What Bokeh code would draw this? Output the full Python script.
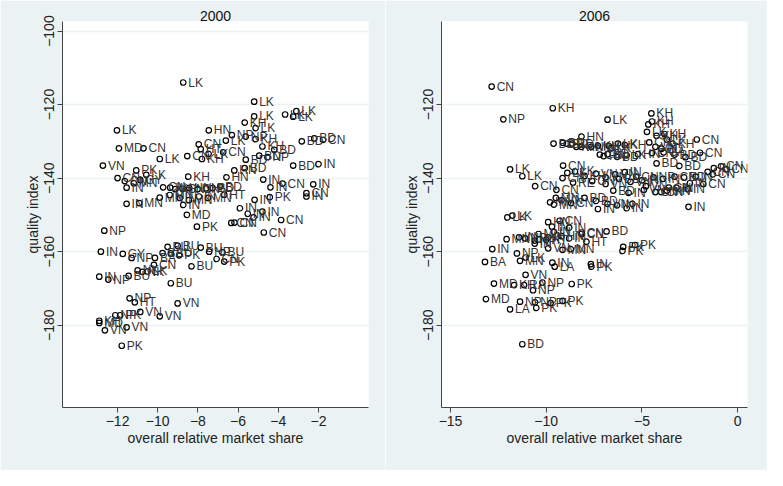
from bokeh.plotting import figure
from bokeh.layouts import row
from bokeh.models import FixedTicker, Range1d, ColumnDataSource
from bokeh.core.properties import value
from bokeh.embed import file_html
from bokeh.resources import INLINE

# ---- 2000 panel data ----
x2000 = [-8.73,-5.2,-5.2,-5.67,-5.13,-3.66,-3.1,-3.26,-12.03,-7.46,-6.31,-5.62,-5.13,-7.96,-6.61,
         -11.93,-10.71,-2.83,-2.21,-1.77,-7.86,-7.47,-6.74,-7.8,-8.53,-9.9,-4.79,-4.2,-5.62,-4.54,-4.95,
         -6.19,-5.67,-3.26,-2.0,-12.73,-11.07,-10.57,-12.0,-11.64,-11.55,-10.87,-11.19,-8.48,-6.58,-4.75,
         -4.39,-3.79,-2.26,-2.6,-2.6,-9.73,-9.38,-9.13,-8.77,-8.43,-8.02,-7.6,-7.27,-6.89,
         -9.9,-9.4,-8.9,-8.45,-7.95,-7.5,-6.69,-5.18,-4.42,-11.55,-10.92,-8.73,-8.55,-5.91,-5.52,-4.79,
         -5.23,-3.86,-6.34,-6.18,-8.05,-4.72,-12.66,
         -12.83,-11.74,-11.3,-10.14,-10.19,-9.76,-9.51,-9.01,-8.93,-9.35,-7.86,-7.44,-6.78,-7.07,-6.69,
         -8.32,-12.91,-12.46,-11.45,-11.0,-10.76,-10.51,-9.35,-11.4,-11.14,-9.01,-10.87,-12.11,-11.87,
         -9.9,-12.91,-12.91,-12.63,-11.55,-11.79]
y2000 = [-114.0,-119.2,-123.2,-124.9,-126.4,-122.7,-121.8,-123.3,-127.0,-127.0,-128.3,-128.7,-129.4,-130.8,-129.8,
         -131.9,-131.9,-130.0,-129.2,-129.6,-132.1,-133.4,-133.0,-134.8,-134.0,-134.8,-131.4,-132.3,-135.0,-134.3,-133.9,
         -137.9,-137.3,-136.6,-136.2,-136.6,-137.9,-139.1,-140.0,-140.8,-142.6,-140.5,-141.4,-139.6,-139.8,-140.4,
         -142.5,-141.5,-141.7,-144.1,-145.0,-142.5,-142.6,-143.0,-142.9,-142.7,-143.0,-142.8,-142.7,-142.3,
         -145.3,-144.6,-145.4,-146.0,-145.0,-145.4,-144.5,-145.9,-145.2,-147.0,-146.8,-147.3,-150.0,-148.2,-149.7,-149.1,
         -150.7,-151.4,-152.2,-152.1,-153.2,-154.8,-154.3,
         -160.0,-160.6,-161.7,-161.7,-163.6,-160.4,-158.7,-158.4,-161.0,-160.5,-158.9,-160.0,-160.2,-162.0,-162.7,
         -164.0,-166.8,-167.6,-166.6,-165.1,-165.5,-165.4,-168.6,-172.7,-173.8,-174.1,-176.4,-177.3,-177.3,
         -177.6,-178.8,-179.4,-181.4,-180.6,-185.6]
lab2000 = ["LK","LK","LK","KH","LK","LK","LK","LK","LK","HN","NP","NP","KH","CN","LK",
           "MD","CN","BD","BD","CN","HT","LK","CN","KH","CN","LK","KH","BD","BD","NP","BD",
           "HN","BD","BD","IN","VN","PK","LK","CN","CN","IN","GY","MN","KH","HN","IN",
           "IN","CN","IN","CN","IN","CN","KH","KH","CN","HN","CN","HN","BD","BD",
           "MN","MN","IN","MN","IN","MN","HT","IN","PK","IN","MN","IN","MD","IN","IN","IN",
           "IN","CN","CN","CN","PK","CN","NP",
           "IN","GY","NP","BA","CN","BA","BU","BU","PK","BU","BU","NP","BU","CN","PK",
           "BU","IN","NP","BU","NK","NK","LK","BU","NP","HT","VN","VN","NP","PK",
           "VN","KH","MD","VN","VN","PK"]

# ---- 2006 panel data ----
x2006 = [-12.85,-12.24,-9.66,-6.8,-4.51,-4.48,-4.67,-4.74,-4.24,-3.83,-3.7,-3.4,-4.62,-4.3,-3.98,
         -2.14,-1.97,-2.73,-3.3,-3.87,-4.48,-5.21,-4.24,-3.05,-1.57,-1.25,-0.87,-0.6,
         -8.16,-9.62,-9.13,-8.93,-8.64,-8.43,-8.17,-7.65,-7.3,-6.74,-6.25,-6.6,-5.9,
         -9.12,-11.89,-11.25,-10.58,-9.15,-9.47,
         -7.2,-7.0,-6.8,-6.3,-5.8,
         -8.9,-8.5,-8.0,-7.4,-6.9,-6.4,-5.9,-5.3,
         -8.6,-7.6,-6.9,-6.2,-5.6,-5.0,-4.4,-3.9,-3.3,-2.8,-2.2,-1.8,-1.3,-2.5,-3.6,-4.8,
         -6.5,-5.7,-4.9,-4.3,-3.7,-3.2,-2.6,-4.0,
         -9.5,-9.8,-9.6,-9.2,-8.7,-8.0,-7.4,-6.8,-7.3,-6.3,-5.8,-5.5,-2.57,
         -12.03,-11.77,-9.9,-9.7,-9.3,-8.15,-6.85,-9.2,-8.8,-9.6,-10.4,-11.1,-10.6,-10.0,
         -12.07,-11.42,-10.6,-10.37,-9.9,-8.8,-8.15,-7.9,
         -12.82,-11.53,-9.9,-9.15,-8.72,-5.98,-5.37,-6.02,
         -13.2,-11.37,-11.08,-9.68,-9.56,-7.67,-7.64,-11.08,
         -12.73,-11.68,-11.16,-10.2,-10.69,-8.67,-13.15,-11.37,-10.58,-9.77,-9.15,-11.89,-10.52,-11.25]
y2006 = [-115.1,-124.0,-121.0,-124.1,-122.4,-124.6,-125.4,-127.4,-128.5,-128.0,-129.5,-130.6,-130.3,-131.5,-132.0,
         -129.5,-133.1,-134.3,-133.6,-133.0,-133.2,-133.5,-136.0,-136.7,-138.3,-137.3,-136.8,-137.6,
         -128.7,-130.6,-130.4,-130.6,-130.6,-131.5,-131.5,-131.5,-131.2,-131.2,-130.6,-131.8,-131.0,
         -136.6,-137.6,-139.5,-142.2,-140.0,-143.2,
         -133.6,-134.0,-133.5,-134.2,-133.8,
         -138.6,-138.2,-139.4,-138.8,-139.8,-139.0,-138.4,-139.6,
         -141.2,-140.8,-141.6,-140.2,-141.0,-140.6,-139.8,-140.2,-139.6,-139.8,-139.6,-141.6,-139.0,-141.4,-142.6,-142.2,
         -143.4,-144.0,-143.2,-143.8,-143.4,-142.6,-143.0,-143.8,
         -145.4,-146.6,-147.2,-146.0,-146.8,-145.4,-146.2,-147.0,-148.4,-147.4,-148.2,-147.0,-147.8,
         -150.7,-150.2,-152.0,-153.2,-151.6,-154.8,-154.5,-155.8,-153.5,-154.6,-155.2,-156.4,-157.8,-156.8,
         -156.6,-156.1,-157.0,-156.7,-156.1,-156.4,-155.2,-157.3,
         -159.3,-160.5,-159.1,-159.5,-159.3,-158.7,-158.2,-159.8,
         -162.8,-162.5,-161.6,-163.0,-164.1,-163.4,-164.1,-166.3,
         -168.7,-169.1,-169.1,-168.4,-170.5,-168.8,-172.9,-173.6,-173.8,-174.0,-173.4,-175.7,-175.3,-185.2]
lab2006 = ["CN","NP","KH","LK","KH","KH","KH","LK","KH","KH","LK","KH","CN","VN","BD",
           "CN","CN","BD","BD","CA","CN","HN","BD","BD","CN","IN","CN","CN",
           "HN","BD","BD","BD","BD","KH","RN","MN","KH","KH","LK","LK","KH",
           "CN","LK","LK","CN","CN","CN",
           "CN","HN","BD","BD","LK",
           "LK","LK","KH","VN","VN","VN","IN","CN",
           "RE","GN","VN","BD","VN","IN","NP","IN","CN","BD","IN","CN","CN","IN","CN","VN",
           "BD","IN","VN","CN","MN","IN","IN","CN",
           "MN","IN","MN","VN","CN","BD","BD","VN","IN","IN","IN","IN","IN",
           "LK","LK","HN","IN","CN","CN","BD","HN","IN","IN","MN","NP","IN","HT",
           "MN","IN","NP","PK","IN","IN","CN","HT",
           "IN","NP","VN","MN","MN","PK","PK","PK",
           "BA","MN","LK","IN","LA","IN","PK","VN",
           "MD","KH","RA","NP","NP","PK","MD","NP","NP","PK","PK","LA","PK","BD"]

BG = "#eaf2f3"
FONT = "Liberation Sans"

def panel(title, xs, ys, labs, xr, xticks, yticks, w, bl, br):
    p = figure(width=w, height=470, output_backend="svg", toolbar_location=None,
               x_range=Range1d(*xr), y_range=Range1d(-202.4, -97.4),
               min_border_left=bl, min_border_right=br, min_border_top=21, min_border_bottom=63)
    p.background_fill_color = "white"
    p.border_fill_color = BG
    p.outline_line_color = None
    p.title.text = title
    p.title.align = "center"
    p.title.text_font = FONT
    p.title.text_font_size = "14px"
    p.title.text_font_style = "normal"
    p.title.text_color = "#111111"
    p.title.standoff = 2
    src = ColumnDataSource(dict(x=xs, y=ys, t=labs))
    p.scatter("x", "y", source=src, marker="circle", size=5.5, fill_color=None,
              line_color="black", line_width=1.2)
    p.text("x", "y", text="t", source=src, x_offset=5, text_baseline="middle",
           text_font_size="12px", text_color="#333333", text_font=value(FONT))
    p.xaxis.ticker = FixedTicker(ticks=xticks)
    p.yaxis.ticker = FixedTicker(ticks=yticks)
    p.xgrid.grid_line_color = None
    p.ygrid.grid_line_color = BG
    p.ygrid.grid_line_width = 1.5
    p.xaxis.axis_label = "overall relative market share"
    p.yaxis.axis_label = "quality index"
    p.yaxis.major_label_orientation = "vertical"
    for ax in (p.xaxis, p.yaxis):
        ax.axis_label_text_font = FONT
        ax.axis_label_text_font_size = "14px"
        ax.axis_label_text_font_style = "normal"
        ax.axis_label_text_color = "#222222"
        ax.major_label_text_font = FONT
        ax.major_label_text_font_size = "14px"
        ax.major_label_text_color = "#222222"
        ax.axis_line_color = "#444444"
        ax.major_tick_line_color = "#444444"
        ax.major_tick_out = 5
        ax.major_tick_in = 0
        ax.minor_tick_line_color = None
        ax.axis_label_standoff = 1
        ax.major_label_standoff = 3
    return p

p1 = panel("2000", x2000, y2000, lab2000, (-14.74, 0.49), [-12, -10, -8, -6, -4, -2],
           [-100, -120, -140, -160, -180], 385, 62, 17)
p2 = panel("2006", x2006, y2006, lab2006, (-15.47, 0.51), [-15, -10, -5, 0],
           [-120, -140, -160, -180], 382, 56, 20)

layout = row(p1, p2, spacing=0)
open("out.html", "w").write(file_html(layout, INLINE))
